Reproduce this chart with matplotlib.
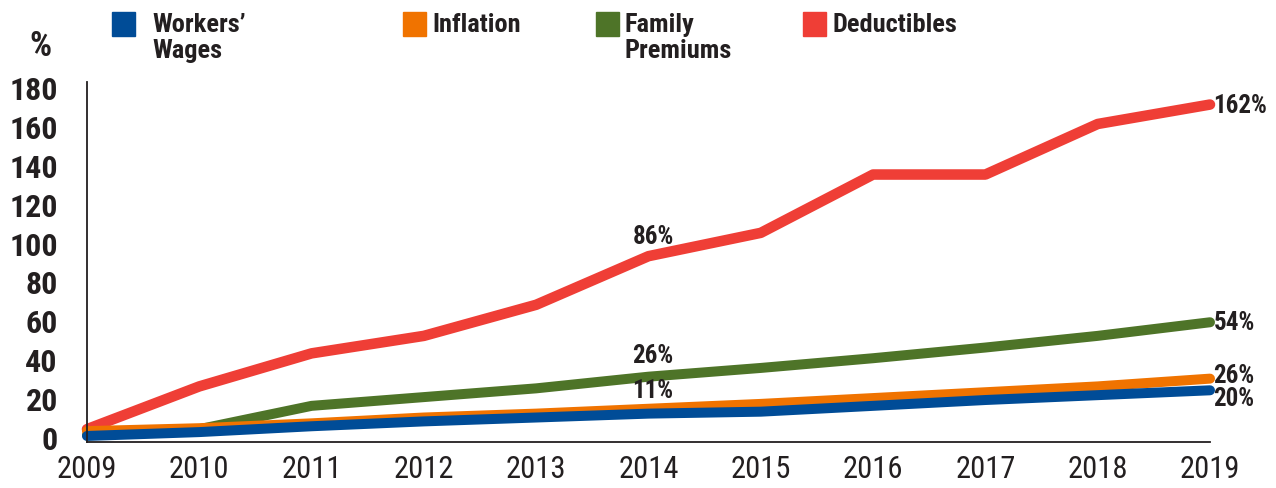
import matplotlib.pyplot as plt
from matplotlib.patches import Rectangle

years = list(range(2009, 2020))
wages = [0.5, 2.5, 5.5, 8, 10, 12, 13, 16, 19, 21.5, 24]
inflation = [3, 4.5, 7, 10, 12, 14.5, 17, 20, 23, 26, 30]
premiums = [1, 4, 16, 20.5, 25, 31, 35.5, 40.5, 46, 52, 59]
deductibles = [4, 26, 43, 52, 68, 93, 105, 135, 135, 161, 171]

series_names = ["Workers’\nWages", "Inflation", "Family\nPremiums", "Deductibles"]
colors = ["#004C97", "#F07300", "#4E7428", "#EF3E36"]

# value labels: text and y position
end_labels = [("162%", 171), ("54%", 59), ("26%", 32), ("20%", 20)]
mid_labels = [("86%", 97), ("26%", 36), ("11%", 18)]

plt.rcParams['font.family'] = ['Roboto Condensed', 'DejaVu Sans']
ink = "#231f20"

fig = plt.figure(figsize=(12.76, 4.89), dpi=100)
ax = fig.add_axes([87 / 1276, 46 / 489, (1210 - 87) / 1276, (443 - 83) / 489])

# draw bottom to top so red sits on top
data = [wages, inflation, premiums, deductibles]
widths = [7.2, 7.2, 7.2, 7.6]
for i in [3, 2, 1, 0]:
    ax.plot(years, data[i], color=colors[i], lw=widths[i], solid_capstyle='round',
            solid_joinstyle='round', clip_on=False)

ax.set_xlim(2009, 2019)
ax.set_ylim(-2.6, 182.6)
ax.set_xticks(years)
ax.set_xticklabels([str(y) for y in years], fontsize=22, color=ink)
ax.set_yticks(range(0, 181, 20))
ax.set_yticklabels([str(v) for v in range(0, 181, 20)], fontsize=23,
                   fontweight='bold', color=ink)
ax.tick_params(axis='x', length=0, pad=9)
ax.tick_params(axis='y', length=0, pad=21)
for s in ['top', 'right']:
    ax.spines[s].set_visible(False)
for s in ['left', 'bottom']:
    ax.spines[s].set_color(ink)
    ax.spines[s].set_linewidth(1.3)

for txt, v in end_labels:
    ax.text(2019.03, v, txt, fontsize=18, fontweight='bold', color=ink,
            ha='left', va='center')
for txt, v in mid_labels:
    ax.text(2014.04, v, txt, fontsize=18, fontweight='bold', color=ink,
            ha='center', va='bottom')

fig.text(40 / 1276, 1 - 47 / 489, "%", fontsize=25, fontweight='bold',
         color=ink, ha='center', va='center')

# legend
sq_x = [112, 403, 596, 803]
tx_x = [152, 432, 625, 832]
for i in range(4):
    fig.patches.append(Rectangle((sq_x[i] / 1276, 1 - 37 / 489), 23 / 1276, 24 / 489,
                                 transform=fig.transFigure, color=colors[i]))
    fig.text(tx_x[i] / 1276, 1 - 13 / 489, series_names[i], fontsize=19,
             fontweight='bold', color=ink, ha='left', va='top',
             linespacing=1.12)

fig.savefig("out.png", dpi=100)
